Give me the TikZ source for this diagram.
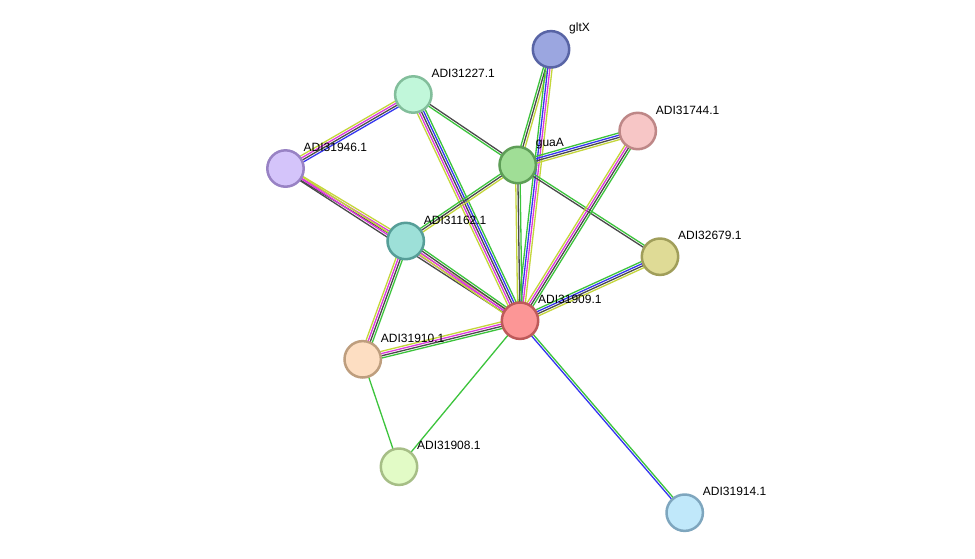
\documentclass[tikz,border=0pt]{standalone}
\usepackage{fontspec}
\setmainfont{Liberation Sans}
\usetikzlibrary{calc}
\pgfdeclarelayer{paper}
\pgfdeclarelayer{background}
\pgfsetlayers{paper,background,main}
\definecolor{cgreen}{HTML}{3CC43C}
\definecolor{cblue}{HTML}{3535F0}
\definecolor{cgray}{HTML}{4A4A4A}
\definecolor{cmag}{HTML}{DC38DC}
\definecolor{cyel}{HTML}{C4D63A}
\newcommand\strbundle[4]{%
  \foreach \col [count=\i] in {#4}{%
    \pgfmathsetmacro\off{(\i-(#3+1)/2)*2.2}%
    \draw[edgeline,\col] ($(#1)!\off pt!90:(#2)$) -- ($(#2)!\off pt!-90:(#1)$);
  }}
\begin{document}
\begin{tikzpicture}[x=1pt,y=-1pt,
  pn/.style={circle,minimum size=36.4pt,inner sep=0pt,line width=2.5pt},
  lbl/.style={anchor=west,inner sep=0pt,font=\fontsize{12}{14}\selectfont},
  edgeline/.style={line width=1.3pt}]
\begin{pgfonlayer}{paper}
\fill[white] (0,0) rectangle (975,558);
\end{pgfonlayer}
\useasboundingbox (0,0) rectangle (975,558);
% nodes
\node[pn,fill={rgb,255:red,155;green,166;blue,224},draw={rgb,255:red,88;green,100;blue,165}] (gltX) at (551,49.3) {};
\node[pn,fill={rgb,255:red,193;green,247;blue,218},draw={rgb,255:red,130;green,190;blue,155}] (n227) at (413.3,94.5) {};
\node[pn,fill={rgb,255:red,247;green,198;blue,198},draw={rgb,255:red,190;green,135;blue,135}] (n744) at (637.7,131) {};
\node[pn,fill={rgb,255:red,212;green,196;blue,250},draw={rgb,255:red,152;green,130;blue,196}] (n946) at (285.5,168.5) {};
\node[pn,fill={rgb,255:red,160;green,222;blue,150},draw={rgb,255:red,94;green,158;blue,87}] (guaA) at (517.7,165) {};
\node[pn,fill={rgb,255:red,157;green,224;blue,216},draw={rgb,255:red,86;green,158;blue,152}] (n162) at (405.7,241) {};
\node[pn,fill={rgb,255:red,223;green,219;blue,150},draw={rgb,255:red,160;green,158;blue,90}] (n679) at (660,256.7) {};
\node[pn,fill={rgb,255:red,252;green,150;blue,150},draw={rgb,255:red,190;green,90;blue,90}] (n909) at (520,320.7) {};
\node[pn,fill={rgb,255:red,253;green,222;blue,194},draw={rgb,255:red,190;green,158;blue,126}] (n910) at (362.7,359.3) {};
\node[pn,fill={rgb,255:red,226;green,251;blue,198},draw={rgb,255:red,166;green,190;blue,134}] (n908) at (399,466.7) {};
\node[pn,fill={rgb,255:red,192;green,232;blue,250},draw={rgb,255:red,126;green,166;blue,190}] (n914) at (684.7,512.7) {};
% labels
\node[lbl] (gltX-l) at ($(gltX)+(18,-21)$) {gltX};
\node[lbl] (n227-l) at ($(n227)+(18,-21)$) {ADI31227.1};
\node[lbl] (n744-l) at ($(n744)+(18,-21)$) {ADI31744.1};
\node[lbl] (n946-l) at ($(n946)+(18,-21)$) {ADI31946.1};
\node[lbl] (guaA-l) at ($(guaA)+(18,-21)$) {guaA};
\node[lbl] (n162-l) at ($(n162)+(18,-21)$) {ADI31162.1};
\node[lbl] (n679-l) at ($(n679)+(18,-21)$) {ADI32679.1};
\node[lbl] (n909-l) at ($(n909)+(18,-21)$) {ADI31909.1};
\node[lbl] (n910-l) at ($(n910)+(18,-21)$) {ADI31910.1};
\node[lbl] (n908-l) at ($(n908)+(18,-21)$) {ADI31908.1};
\node[lbl] (n914-l) at ($(n914)+(18,-21)$) {ADI31914.1};
% edges
\begin{pgfonlayer}{background}
\strbundle{gltX}{guaA}{3}{cgreen,cgray,cyel}
\strbundle{gltX}{n909}{4}{cgreen,cblue,cmag,cyel}
\strbundle{n227}{guaA}{2}{cgreen,cgray}
\strbundle{n909}{n227}{5}{cgreen,cblue,cgray,cmag,cyel}
\strbundle{n946}{n227}{4}{cblue,cgray,cmag,cyel}
\strbundle{n946}{n162}{3}{cgray,cmag,cyel}
\strbundle{n946}{n909}{3}{cgray,cmag,cyel}
\strbundle{n909}{n162}{4}{cgreen,cgray,cmag,cyel}
\strbundle{guaA}{n162}{3}{cgreen,cgray,cyel}
\strbundle{n910}{n162}{4}{cgreen,cgray,cmag,cyel}
\strbundle{n910}{n909}{4}{cgreen,cgray,cmag,cyel}
\strbundle{n910}{n908}{1}{cgreen}
\strbundle{n908}{n909}{1}{cgreen}
\strbundle{n914}{n909}{2}{cgreen,cblue}
\strbundle{n744}{guaA}{4}{cgreen,cblue,cgray,cyel}
\strbundle{n679}{guaA}{2}{cgreen,cgray}
\strbundle{n909}{guaA}{3}{cgreen,cgray,cyel}
\strbundle{n909}{n744}{4}{cgreen,cgray,cmag,cyel}
\strbundle{n679}{n909}{4}{cgreen,cblue,cgray,cyel}
\end{pgfonlayer}
\end{tikzpicture}
\end{document}
